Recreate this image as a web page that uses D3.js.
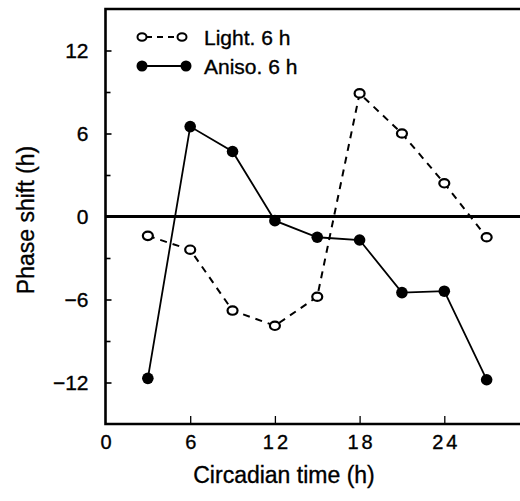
<!DOCTYPE html>
<meta charset="utf-8">
<script src="https://d3js.org/d3.v7.min.js"></script>
<style>
  body { margin: 0; background: #fff; }
  text { font-family: "Liberation Sans", Arial, sans-serif; fill: #000; stroke: #000; stroke-width: 0.35px; }
</style>
<div id="chart"></div>
<script>

// circadian times of the pulses
var times = [3, 6, 9, 12, 15, 18, 21, 24, 27];
// phase shifts (h)
var lightShift  = [-1.4, -2.4, -6.8, -7.9, -5.8, 8.9, 6.0, 2.4, -1.5];
var anisoShift  = [-11.7, 6.5, 4.7, -0.3, -1.5, -1.7, -5.5, -5.4, -11.8];

var xTicks = [0, 6, 12, 18, 24];
var yTicks = [-12, -6, 0, 6, 12];
var yMinor = [-9, -3, 3, 9];

var width = 520, height = 501;

var svg = d3.select("#chart").append("svg")
  .attr("width", width)
  .attr("height", height);

var x = d3.scaleLinear().domain([0, 30]).range([105.5, 529]);
var y = d3.scaleLinear().domain([-15, 15]).range([424, 9]);

// frame: left, bottom, top
svg.append("path")
  .attr("d", "M" + x(30) + "," + y(15) + "H" + x(0) + "V" + y(-15) + "H" + x(30))
  .attr("fill", "none")
  .attr("stroke", "#000")
  .attr("stroke-width", 2.6);

// zero line
svg.append("line")
  .attr("x1", x(0)).attr("x2", x(30))
  .attr("y1", y(0)).attr("y2", y(0))
  .attr("stroke", "#000")
  .attr("stroke-width", 3);

// y axis, ticks pointing inward
var yAxis = svg.append("g")
  .attr("transform", "translate(" + x(0) + ",0)")
  .call(d3.axisLeft(y).tickValues(yTicks).tickSize(-6).tickPadding(17)
    .tickFormat(function(d) { return d < 0 ? "\u2212" + Math.abs(d) : d; }));
yAxis.select(".domain").remove();
yAxis.selectAll("line").attr("stroke-width", 1.6);
yAxis.selectAll("text").style("font-size", "21px");

svg.append("g")
  .attr("transform", "translate(" + x(0) + ",0)")
  .call(d3.axisLeft(y).tickValues(yMinor).tickSize(-5).tickFormat(""))
  .call(function(g) { g.select(".domain").remove(); })
  .selectAll("line").attr("stroke-width", 1.6);

// x axis, ticks pointing up
var xAxis = svg.append("g")
  .attr("transform", "translate(0," + y(-15) + ")")
  .call(d3.axisBottom(x).tickValues(xTicks).tickSize(-8).tickPadding(11));
xAxis.select(".domain").remove();
xAxis.selectAll("line").attr("stroke-width", 1.3)
  .attr("opacity", function(d) { return d === 0 ? 0 : 1; });
xAxis.selectAll("text")
  .style("font-size", "20px")
  .style("letter-spacing", "3px")
  .attr("dx", "1.5px");

// axis titles
svg.append("text")
  .attr("x", 284).attr("y", 483)
  .attr("text-anchor", "middle")
  .style("font-size", "23px")
  .text("Circadian time (h)");

svg.append("text")
  .attr("transform", "translate(34,220) rotate(-90)")
  .attr("text-anchor", "middle")
  .style("font-size", "23px")
  .text("Phase shift (h)");

var lightPts = times.map(function(t, i) { return [t, lightShift[i]]; });
var anisoPts = times.map(function(t, i) { return [t, anisoShift[i]]; });

var line = d3.line()
  .x(function(d) { return x(d[0]); })
  .y(function(d) { return y(d[1]); });

svg.append("path")
  .datum(lightPts)
  .attr("d", line)
  .attr("fill", "none")
  .attr("stroke", "#000")
  .attr("stroke-width", 2)
  .attr("stroke-dasharray", "7,6");

svg.append("path")
  .datum(anisoPts)
  .attr("d", line)
  .attr("fill", "none")
  .attr("stroke", "#000")
  .attr("stroke-width", 1.8);

svg.selectAll(".light")
  .data(lightPts)
  .enter().append("ellipse")
    .attr("class", "light")
    .attr("cx", function(d) { return x(d[0]); })
    .attr("cy", function(d) { return y(d[1]); })
    .attr("rx", 5).attr("ry", 4.2)
    .attr("fill", "#fff")
    .attr("stroke", "#000")
    .attr("stroke-width", 2.2);

svg.selectAll(".aniso")
  .data(anisoPts)
  .enter().append("circle")
    .attr("class", "aniso")
    .attr("cx", function(d) { return x(d[0]); })
    .attr("cy", function(d) { return y(d[1]); })
    .attr("r", 5.8)
    .attr("fill", "#000");

// legend
var legend = svg.append("g");
legend.append("line")
  .attr("x1", 146).attr("x2", 178).attr("y1", 37).attr("y2", 37)
  .attr("stroke", "#000").attr("stroke-width", 2).attr("stroke-dasharray", "6,5");
legend.selectAll(".lo")
  .data([142, 182]).enter().append("ellipse")
    .attr("cx", function(d) { return d; }).attr("cy", 37)
    .attr("rx", 4.5).attr("ry", 3.8)
    .attr("fill", "#fff").attr("stroke", "#000").attr("stroke-width", 2);
legend.append("text")
  .attr("x", 204).attr("y", 45)
  .style("font-size", "21px")
  .text("Light. 6 h");

legend.append("line")
  .attr("x1", 142).attr("x2", 186).attr("y1", 66).attr("y2", 66)
  .attr("stroke", "#000").attr("stroke-width", 2.2);
legend.selectAll(".lf")
  .data([142, 186]).enter().append("circle")
    .attr("cx", function(d) { return d; }).attr("cy", 66)
    .attr("r", 5.5)
    .attr("fill", "#000");
legend.append("text")
  .attr("x", 204).attr("y", 74)
  .style("font-size", "21px")
  .text("Aniso. 6 h");

</script>
